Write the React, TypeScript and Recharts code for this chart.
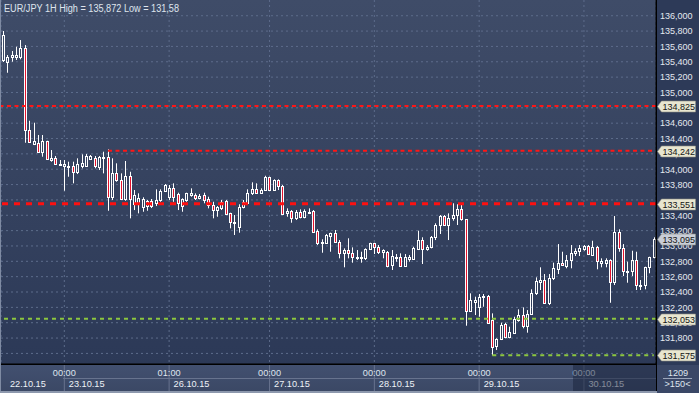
import { ComposedChart, Bar, XAxis, YAxis, CartesianGrid, ReferenceLine } from 'recharts'

// EUR/JPY hourly candles, 22.10.15 10:00 .. 30.10.15 16:00 (150 bars)
const opens = [
  135.423, 135.397, 135.458, 135.458, 135.458, 135.575, 134.511, 134.328, 134.345, 134.228,
  134.367, 134.120, 134.142, 134.051, 134.042, 134.035, 134.042, 133.967, 134.042, 134.042,
  134.137, 134.142, 134.032, 134.142, 134.163, 133.634, 133.954, 133.859, 133.608, 133.911,
  133.546, 133.556, 133.511, 133.520, 133.586, 133.556, 133.599, 133.712, 133.642, 133.751,
  133.673, 133.520, 133.599, 133.664, 133.664, 133.621, 133.664, 133.612, 133.533, 133.468,
  133.490, 133.589, 133.425, 133.303, 133.251, 133.503, 133.563, 133.686, 133.738, 133.694,
  133.729, 133.894, 133.729, 133.859, 133.781, 133.425, 133.455, 133.360, 133.446, 133.381,
  133.433, 133.459, 133.199, 133.034, 133.042, 133.130, 133.165, 133.055, 132.912, 132.947,
  132.912, 132.839, 132.839, 132.839, 132.956, 133.034, 132.982, 132.925, 132.925, 132.752,
  132.852, 132.860, 132.739, 132.826, 132.826, 132.956, 133.077, 132.956, 132.982, 133.113,
  133.273, 133.390, 133.273, 133.360, 133.403, 133.477, 133.347, 132.156, 132.266, 132.200,
  132.331, 132.352, 132.035, 131.696, 131.784, 131.983, 131.810, 131.870, 132.035, 132.100,
  131.957, 132.113, 132.383, 132.534, 132.556, 132.253, 132.578, 132.696, 132.782, 132.739,
  132.817, 132.904, 132.938, 132.956, 132.999, 132.882, 132.990, 132.782, 132.782, 132.817,
  132.534, 133.186, 132.969, 132.664, 132.677, 132.817, 132.478, 132.491, 132.722, 132.852,
]
const highs = [
  135.801, 135.488, 135.540, 135.596, 135.683, 135.618, 134.632, 134.606, 134.446, 134.446,
  134.371, 134.250, 134.172, 134.120, 134.120, 134.098, 134.098, 134.142, 134.194, 134.198,
  134.185, 134.172, 134.172, 134.228, 134.259, 134.142, 134.077, 133.946, 134.107, 133.967,
  133.729, 133.686, 133.634, 133.599, 133.612, 133.738, 133.738, 133.807, 133.794, 133.816,
  133.694, 133.621, 133.694, 133.751, 133.686, 133.677, 133.694, 133.642, 133.576, 133.520,
  133.599, 133.599, 133.433, 133.403, 133.543, 133.599, 133.738, 133.829, 133.816, 133.751,
  133.915, 133.902, 133.868, 133.868, 133.794, 133.490, 133.468, 133.468, 133.477, 133.477,
  133.490, 133.468, 133.217, 133.087, 133.156, 133.173, 133.208, 133.077, 132.969, 133.100,
  132.982, 132.947, 132.925, 132.969, 133.042, 133.042, 133.012, 132.956, 132.934, 132.947,
  132.895, 132.904, 132.895, 132.882, 132.990, 133.199, 133.113, 133.012, 133.130, 133.295,
  133.403, 133.403, 133.425, 133.556, 133.543, 133.533, 133.351, 132.383, 132.339, 132.374,
  132.374, 132.361, 132.122, 131.797, 132.000, 132.000, 131.948, 132.078, 132.174, 132.200,
  132.165, 132.435, 132.591, 132.722, 132.634, 132.634, 132.782, 133.025, 132.925, 132.882,
  133.012, 132.969, 133.012, 133.012, 133.012, 133.068, 132.999, 132.839, 132.839, 132.826,
  133.390, 133.217, 133.025, 132.795, 132.938, 132.925, 132.556, 132.730, 132.860, 133.113,
]
const lows = [
  135.397, 135.257, 135.401, 135.423, 135.432, 134.345, 134.345, 134.315, 134.215, 134.163,
  134.120, 134.098, 134.055, 134.042, 133.720, 133.902, 133.816, 133.937, 134.012, 134.032,
  134.120, 134.012, 133.990, 133.946, 133.459, 133.599, 133.837, 133.599, 133.589, 133.360,
  133.468, 133.425, 133.446, 133.459, 133.494, 133.520, 133.576, 133.703, 133.599, 133.576,
  133.468, 133.446, 133.576, 133.642, 133.599, 133.608, 133.556, 133.490, 133.360, 133.381,
  133.468, 133.403, 133.230, 133.143, 133.173, 133.490, 133.556, 133.664, 133.677, 133.686,
  133.720, 133.720, 133.720, 133.729, 133.403, 133.381, 133.303, 133.338, 133.360, 133.360,
  133.416, 133.173, 133.012, 132.912, 133.034, 132.925, 133.042, 132.839, 132.722, 132.839,
  132.782, 132.817, 132.782, 132.817, 132.947, 132.895, 132.895, 132.839, 132.722, 132.687,
  132.795, 132.730, 132.730, 132.795, 132.817, 132.947, 132.765, 132.938, 132.969, 133.077,
  133.156, 133.260, 133.077, 133.329, 133.273, 133.329, 131.961, 132.143, 132.100, 132.078,
  132.208, 131.992, 131.575, 131.644, 131.774, 131.797, 131.797, 131.862, 132.013, 131.927,
  131.870, 132.100, 132.361, 132.426, 132.253, 132.230, 132.556, 132.634, 132.739, 132.709,
  132.709, 132.869, 132.869, 132.938, 132.882, 132.869, 132.696, 132.722, 132.722, 132.260,
  132.491, 132.925, 132.608, 132.521, 132.608, 132.426, 132.426, 132.435, 132.644, 132.839,
]
const closes = [
  135.749, 135.458, 135.488, 135.488, 135.575, 134.511, 134.358, 134.367, 134.228, 134.367,
  134.129, 134.142, 134.064, 134.064, 134.068, 134.048, 133.967, 134.068, 134.077, 134.172,
  134.172, 134.042, 134.163, 134.155, 133.634, 133.954, 133.859, 133.608, 133.911, 133.608,
  133.660, 133.629, 133.616, 133.586, 133.520, 133.599, 133.720, 133.790, 133.751, 133.642,
  133.556, 133.608, 133.686, 133.686, 133.621, 133.651, 133.599, 133.533, 133.468, 133.503,
  133.576, 133.416, 133.316, 133.316, 133.511, 133.576, 133.686, 133.738, 133.694, 133.729,
  133.894, 133.729, 133.859, 133.781, 133.416, 133.455, 133.360, 133.446, 133.381, 133.459,
  133.446, 133.186, 133.034, 133.055, 133.143, 133.165, 133.055, 132.912, 132.947, 132.912,
  132.852, 132.860, 132.860, 132.956, 133.034, 132.982, 132.925, 132.947, 132.739, 132.869,
  132.860, 132.739, 132.860, 132.860, 132.969, 133.077, 132.956, 132.990, 133.113, 133.273,
  133.390, 133.273, 133.360, 133.403, 133.477, 133.347, 132.156, 132.296, 132.296, 132.331,
  132.352, 132.000, 131.687, 131.784, 131.970, 131.810, 131.883, 132.044, 132.100, 131.957,
  132.113, 132.391, 132.543, 132.556, 132.260, 132.578, 132.709, 132.774, 132.752, 132.817,
  132.904, 132.938, 132.969, 132.999, 132.895, 132.982, 132.808, 132.808, 132.817, 132.534,
  133.186, 132.969, 132.677, 132.677, 132.817, 132.491, 132.491, 132.722, 132.852, 133.095,
]

// bottom axis: bar index of each day start, its time and date
const tickIdx = [14, 38, 61, 85, 109, 133]
const tickTimes = ['00:00', '01:00', '00:00', '00:00', '00:00', '00:00']
const tickDates = ['23.10.15', '26.10.15', '27.10.15', '28.10.15', '29.10.15', '30.10.15']
const firstDate = '22.10.15'

const priceTicks = [
  131.6, 131.8, 132.0, 132.2, 132.4, 132.6, 132.8, 133.0, 133.2, 133.4, 133.6,
  133.8, 134.0, 134.2, 134.4, 134.6, 134.8, 135.0, 135.2, 135.4, 135.6, 135.8, 136.0,
]
// labels fully covered by a price marker in the original
const coveredTicks = [131.6, 133.6, 134.8]

const resistance = [134.825, 134.242, 133.551]
const support = [132.053, 131.575]
const lastPrice = 133.095
const barsShown = 150
const scrollPos = 1209

const levelMarks = [...resistance, ...support]
const data = opens.map((o, i) => ({ i, open: o, high: highs[i], low: lows[i], close: closes[i] }))

const FONT = '"Liberation Sans", Arial, sans-serif'
const fmt = (v: number) => v.toFixed(3).replace('.', ',')

function Candle(props: any) {
  const { x, y, width, height, payload } = props
  const { open, close, high, low } = payload
  const cx = Math.round(x + width / 2) + 0.5
  const top = Math.min(y, y + height)
  const h = Math.abs(height)
  const toY = (v: number) => (high === low ? top : top + ((high - v) / (high - low)) * h)
  const yO = Math.round(toY(open)) + 0.5
  const yC = Math.round(toY(close)) + 0.5
  const bTop = Math.min(yO, yC)
  const bBot = Math.max(Math.max(yO, yC), bTop + 1)
  const up = close >= open
  return (
    <g>
      <line x1={cx} x2={cx} y1={top} y2={bTop} stroke="#ffffff" strokeWidth={1} />
      <line x1={cx} x2={cx} y1={bBot} y2={top + h} stroke="#ffffff" strokeWidth={1} />
      <rect x={cx - 1} y={bTop} width={2} height={bBot - bTop} fill={up ? 'none' : '#e3122c'} stroke="#ffffff" strokeWidth={1} />
    </g>
  )
}

// right axis: plain price labels first, then the level / last-price markers on top
function PriceTick(props: any) {
  const { y, payload } = props
  const v = payload.value
  const isLast = v === lastPrice
  if (isLast || levelMarks.includes(v)) {
    const yc = Math.round(y) + 0.5
    return (
      <g>
        <polygon
          points={`657.5,${yc} 661.5,${yc - 5.5} 695.5,${yc - 5.5} 695.5,${yc + 5.5} 661.5,${yc + 5.5}`}
          fill={isLast ? '#c9ced8' : '#e8e6d0'}
          stroke="#8e8f84"
          strokeWidth={0.6}
        />
        <text x={662.5} y={yc + 3.4} fontSize={9} fill="#151515" fontFamily={FONT}>{fmt(v)}</text>
      </g>
    )
  }
  if (coveredTicks.includes(v)) return <g />
  return (
    <text x={660} y={y + 3.3} fontSize={9} fill="#e4e9f1" fontFamily={FONT}>{fmt(v)}</text>
  )
}

function TimeTick(props: any) {
  const { x, payload } = props
  const k = tickIdx.indexOf(payload.value)
  return (
    <g>
      <line x1={x} x2={x} y1={365} y2={391} stroke="#67738e" strokeWidth={1} />
      <text x={x} y={375.5} textAnchor="middle" fontSize={9.2} fill="#dfe5ee" fontFamily={FONT}>{tickTimes[k]}</text>
      <text x={x + 4.5} y={386.6} fontSize={9.2} fill="#eef2f7" fontFamily={FONT}>{tickDates[k]}</text>
    </g>
  )
}

export default function App() {
  return (
    <div style={{ position: 'absolute', left: 0, top: 0, width: 699, height: 393, overflow: 'hidden', background: '#2d3a58' }}>
      {/* plot background */}
      <div style={{ position: 'absolute', left: 0, top: 0, width: 656, height: 364, background: 'linear-gradient(#3f4c68, #2c3957)' }} />
      {/* time strip */}
      <div style={{ position: 'absolute', left: 0, top: 365, width: 656, height: 26, background: 'linear-gradient(#425070, #3b4865)' }} />
      <div style={{ position: 'absolute', left: 657, top: 365, width: 42, height: 28, background: '#3a4766' }} />

      <div style={{ position: 'absolute', left: 0, top: 0 }}>
        <ComposedChart width={699} height={393} data={data} margin={{ top: 0, right: 0, bottom: 0, left: 1 }}>
          <CartesianGrid stroke="#5d6c8b" strokeDasharray="2 3" horizontalValues={priceTicks} />
          <XAxis
            dataKey="i"
            type="category"
            ticks={tickIdx}
            interval={0}
            height={29}
            tickLine={false}
            axisLine={{ stroke: '#000000' }}
            tick={<TimeTick />}
          />
          <YAxis
            orientation="right"
            width={43}
            type="number"
            domain={[131.462, 136.205]}
            allowDataOverflow
            ticks={[...priceTicks, ...levelMarks, lastPrice]}
            interval={0}
            tickLine={false}
            axisLine={{ stroke: '#000000' }}
            tick={<PriceTick />}
          />
          <Bar dataKey={(d: any) => [d.low, d.high]} shape={<Candle />} isAnimationActive={false} />
          <ReferenceLine y={resistance[0]} stroke="#ff1616" strokeWidth={2} strokeDasharray="4 3.5" />
          <ReferenceLine
            segment={[{ x: 24, y: resistance[1] }, { x: 149, y: resistance[1] }]}
            stroke="#ff1616"
            strokeWidth={2}
            strokeDasharray="4 3.5"
          />
          <ReferenceLine y={resistance[2]} stroke="#ff1010" strokeWidth={3} strokeDasharray="6 6" />
          <ReferenceLine y={support[0]} stroke="#8cc63f" strokeWidth={2} strokeDasharray="4 4" />
          <ReferenceLine
            segment={[{ x: 112, y: support[1] }, { x: 149, y: support[1] }]}
            stroke="#8cc63f"
            strokeWidth={2}
            strokeDasharray="4 4"
          />
        </ComposedChart>
      </div>

      <svg width={699} height={393} style={{ position: 'absolute', left: 0, top: 0, pointerEvents: 'none' }}>
        <text x={4} y={11.5} fontSize={10} fill="#dfe5ee" fontFamily={FONT} textLength={175} lengthAdjust="spacingAndGlyphs">
          EUR/JPY 1H High = 135,872 Low = 131,58
        </text>
        <line x1={63} x2={656} y1={378.5} y2={378.5} stroke="#67738e" />
        <text x={10} y={386.6} fontSize={9.2} fill="#eef2f7" fontFamily={FONT}>{firstDate}</text>
        <rect x={573} y={365} width={83} height={26} fill="#18223a" opacity={0.5} />
        <line x1={0} x2={656} y1={364.5} y2={364.5} stroke="#000000" />
        <line x1={656.5} x2={656.5} y1={0} y2={393} stroke="#000000" />
        <rect x={0} y={0} width={1} height={393} fill="#7f8ba3" />
        <rect x={0} y={391} width={657} height={2} fill="#8d98ad" />
        <text x={678} y={375.5} textAnchor="middle" fontSize={9.2} fill="#dfe5ee" fontFamily={FONT}>{scrollPos}</text>
        <line x1={663} x2={692} y1={378.5} y2={378.5} stroke="#9aa5ba" />
        <text x={677.5} y={386.8} textAnchor="middle" fontSize={9.2} fill="#dfe5ee" fontFamily={FONT}>{`>${barsShown}<`}</text>
      </svg>
    </div>
  )
}
